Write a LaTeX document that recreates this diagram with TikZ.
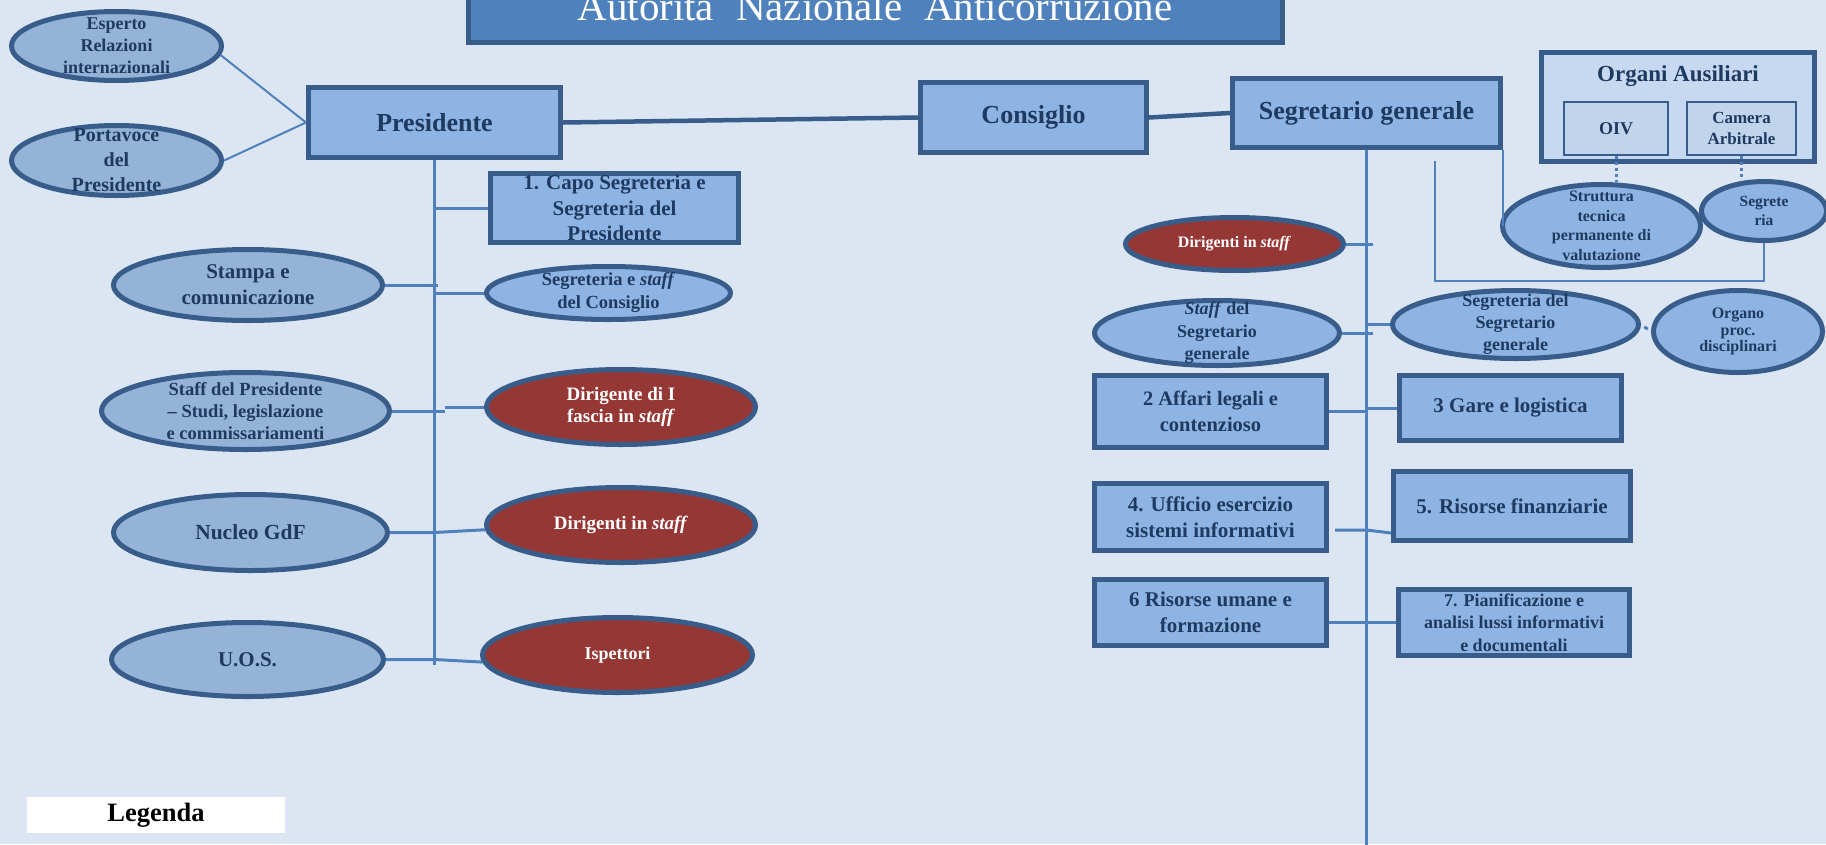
\documentclass[tikz,border=0pt]{standalone}
\usepackage{fontspec}
\setmainfont{Liberation Serif}
\usetikzlibrary{shapes.geometric,calc}
\definecolor{bgc}{HTML}{DCE6F2}
\definecolor{bord}{HTML}{385D8A}
\definecolor{boxfill}{HTML}{8EB4E3}
\definecolor{ellfill}{HTML}{95B3D7}
\definecolor{redfill}{HTML}{953735}
\definecolor{txt}{HTML}{1F3A60}
\definecolor{lnk}{HTML}{4F81BD}
\definecolor{titlefill}{HTML}{4F81BD}
\definecolor{orgfill}{HTML}{C6D9F1}
\definecolor{innfill}{HTML}{C0D4EC}
\newcommand\fsz[2]{\fontsize{#1pt}{#2pt}\selectfont}
\begin{document}
\begin{tikzpicture}[x=1pt,y=-1pt,
  basenode/.style={draw=bord, line width=5pt, text=txt, align=center, inner sep=-40pt},
  rbox/.style={basenode, rectangle, fill=boxfill},
  ell/.style={basenode, ellipse, fill=ellfill},
  ellb/.style={basenode, ellipse, fill=boxfill},
  ellr/.style={basenode, ellipse, fill=redfill, text=white},
  conn/.style={draw=lnk, line width=3pt},
  thinln/.style={draw=lnk, line width=2pt},
  dotln/.style={draw=lnk, line width=3pt, dash pattern=on 3pt off 3pt},
  heavy/.style={draw=bord, line width=4.5pt}]
\useasboundingbox (0,0) rectangle (1826,844);
\fill[bgc] (0,0) rectangle (1826,844);

% title
\node[rbox, fill=titlefill, minimum width=814, minimum height=70] (title) at (875.5,7.5) {};
\node[font=\fsz{41}{45}, text=white, anchor=base, inner sep=0pt] (titletxt) at (875,20) {Autorità\hspace{22pt}Nazionale\hspace{22pt}Anticorruzione};

% left side
\node[ell, minimum width=210, minimum height=69, font=\bfseries\fsz{18}{22}] (esperto) at (116.5,46) {Esperto\\Relazioni\\internazionali};
\node[ell, minimum width=210, minimum height=70, font=\bfseries\fsz{20}{25}] (portavoce) at (116.5,160.5) {Portavoce\\del\\Presidente};
\node[rbox, minimum width=252, minimum height=70, font=\bfseries\fsz{26}{30}] (pres) at (434.5,122.5) {Presidente};
\node[rbox, minimum width=226, minimum height=70, font=\bfseries\fsz{26}{30}] (cons) at (1033.5,117.5) {Consiglio};
\node[rbox, minimum width=268, minimum height=69, font=\bfseries\fsz{26}{30}] (segr) at (1366.5,113) {Segretario generale};
\node[rbox, minimum width=248, minimum height=69, font=\bfseries\fsz{21}{25.5}] (capo) at (614.5,208) {1. Capo Segreteria e\\Segreteria del\\Presidente};
\node[ell, minimum width=269, minimum height=71, font=\bfseries\fsz{21}{26}] (stampa) at (248,285) {Stampa e\\comunicazione};
\node[ellb, minimum width=244, minimum height=53, font=\bfseries\fsz{18.5}{23}] (segcons) at (608.5,293) {Segreteria e \textit{staff}\\del Consiglio};
\node[ell, minimum width=288, minimum height=77, font=\bfseries\fsz{18.5}{22}] (staffpres) at (245.5,411) {Staff del Presidente\\– Studi, legislazione\\e commissariamenti};
\node[ellr, minimum width=269, minimum height=75, font=\bfseries\fsz{19}{22}] (diri) at (621,407) {Dirigente di I\\fascia in \textit{staff}};
\node[ell, minimum width=274, minimum height=76, font=\bfseries\fsz{21.5}{25}] (nucleo) at (250.5,532.5) {Nucleo GdF};
\node[ellr, minimum width=269, minimum height=75, font=\bfseries\fsz{19}{22}] (dirl) at (621,525) {Dirigenti in \textit{staff}};
\node[ell, minimum width=272, minimum height=74, font=\bfseries\fsz{21}{25}] (uos) at (247.5,659.5) {U.O.S.};
\node[ellr, minimum width=270, minimum height=75, font=\bfseries\fsz{18}{22}] (isp) at (617.5,655) {Ispettori};

% organi ausiliari
\node[rbox, fill=orgfill, minimum width=273, minimum height=109] (orgaus) at (1678,107) {};
\node[text=txt, font=\bfseries\fsz{23}{27}, inner sep=0pt] (orgtxt) at (1678,76) {Organi Ausiliari};
\node[rbox, fill=innfill, line width=2.5pt, minimum width=104, minimum height=53, font=\bfseries\fsz{18}{21}] (oiv) at (1616,128.5) {OIV};
\node[rbox, fill=innfill, line width=2.5pt, minimum width=109, minimum height=53, font=\bfseries\fsz{17}{21}] (camera) at (1741.5,128.5) {Camera\\Arbitrale};
\node[ellb, minimum width=198, minimum height=83, font=\bfseries\fsz{16}{19.5}] (strutt) at (1601.5,226) {Struttura\\tecnica\\permanente di\\valutazione};
\node[ellb, minimum width=125, minimum height=59, font=\bfseries\fsz{15.5}{19}] (segria) at (1764,211) {Segrete\\ria};

% right side
\node[ellr, minimum width=218, minimum height=53, font=\bfseries\fsz{16}{20}] (dirr) at (1234.5,244) {Dirigenti in \textit{staff}};
\node[ellb, minimum width=245, minimum height=65, font=\bfseries\fsz{18}{22.5}] (staffsg) at (1217,333) {\textit{Staff} del\\Segretario\\generale};
\node[ellb, minimum width=246, minimum height=68, font=\bfseries\fsz{18}{22}] (segsg) at (1515.5,324.5) {Segreteria del\\Segretario\\generale};
\node[ellb, minimum width=169, minimum height=82, font=\bfseries\fsz{16}{16.5}] (organo) at (1738,331.5) {Organo\\proc.\\disciplinari};
\node[rbox, minimum width=232, minimum height=72, font=\bfseries\fsz{20.5}{26}] (b2) at (1210.5,411.5) {2 Affari legali e\\contenzioso};
\node[rbox, minimum width=222, minimum height=65, font=\bfseries\fsz{21}{25}] (b3) at (1510.5,408) {3 Gare e logistica};
\node[rbox, minimum width=232, minimum height=67, font=\bfseries\fsz{21}{26}] (b4) at (1210.5,517) {4. Ufficio esercizio\\sistemi informativi};
\node[rbox, minimum width=237, minimum height=69, font=\bfseries\fsz{21}{25}] (b5) at (1512,506) {5. Risorse finanziarie};
\node[rbox, minimum width=232, minimum height=66, font=\bfseries\fsz{21}{26}] (b6) at (1210.5,612.5) {6 Risorse umane e\\formazione};
\node[rbox, minimum width=231, minimum height=66, font=\bfseries\fsz{18}{22.5}] (b7) at (1514,622.5) {7. Pianificazione e\\analisi lussi informativi\\e documentali};

% legend
\node[fill=white, minimum width=258, minimum height=36, inner sep=0pt, text=black, font=\bfseries\fsz{26.5}{30}] (leg) at (156,815) {Legenda};

% connectors left
\coordinate (pbot) at (434.5,665);
\draw[conn] (pres.south) -- (pbot);
\draw[thinln] (esperto.-5) -- (pres.west);
\draw[thinln] (portavoce.east) -- (pres.west);
\draw[heavy] (pres.east) -- (cons.west);
\draw[heavy] (cons.east) -- (segr.west);
\draw[conn] (capo.west) -- (capo.west -| pbot);
\draw[conn, shorten >=-3pt] (stampa.east) -- (stampa.east -| pbot);
\draw[conn] (segcons.west) -- (segcons.west -| pbot);
\coordinate (j1) at (445,411);
\draw[conn] (staffpres.east) -- (j1);
\draw[conn] (j1 |- diri.west) -- (diri.west);
\draw[conn] (nucleo.east) -- (nucleo.east -| pbot) -- (dirl.182);
\draw[conn] (uos.east) -- (uos.east -| pbot) -- (isp.183);

% connectors right
\coordinate (sbot) at (1366.5,850);
\draw[conn, line width=2.5pt] (segr.south) -- (sbot);
\draw[thinln] (segr.south east) -- (segr.south east |- strutt.west);
\coordinate (br) at (1435,161);
\coordinate (brc) at (1435,281);
\draw[thinln] (br) -- (brc) -| (segria.south);
\draw[dotln] (oiv.south) -- (oiv.south |- strutt.north);
\draw[dotln] (camera.south) -- (camera.south |- segria.north);
\draw[conn, shorten >=-6pt] (dirr.east) -- (dirr.east -| sbot);
\draw[conn, shorten >=-6pt] (staffsg.east) -- (staffsg.east -| sbot);
\draw[conn] (segsg.west) -- (segsg.west -| sbot);
\draw[conn, shorten <=4pt, shorten >=4pt] (segsg.east) -- (organo.west);
\draw[conn] (b2.east) -- (b2.east -| sbot);
\draw[conn] (b3.west) -- (b3.west -| sbot);
\coordinate (c4) at ([shift={(6,13)}]b4.east);
\coordinate (c5) at ([yshift=-27pt]b5.west);
\draw[conn] (c4) -- (c4 -| sbot) -- (c5);
\coordinate (c6) at ([yshift=-10pt]b6.east);
\draw[conn] (c6) -- (c6 -| sbot);
\draw[conn] (b7.west) -- (b7.west -| sbot);
\end{tikzpicture}
\end{document}
